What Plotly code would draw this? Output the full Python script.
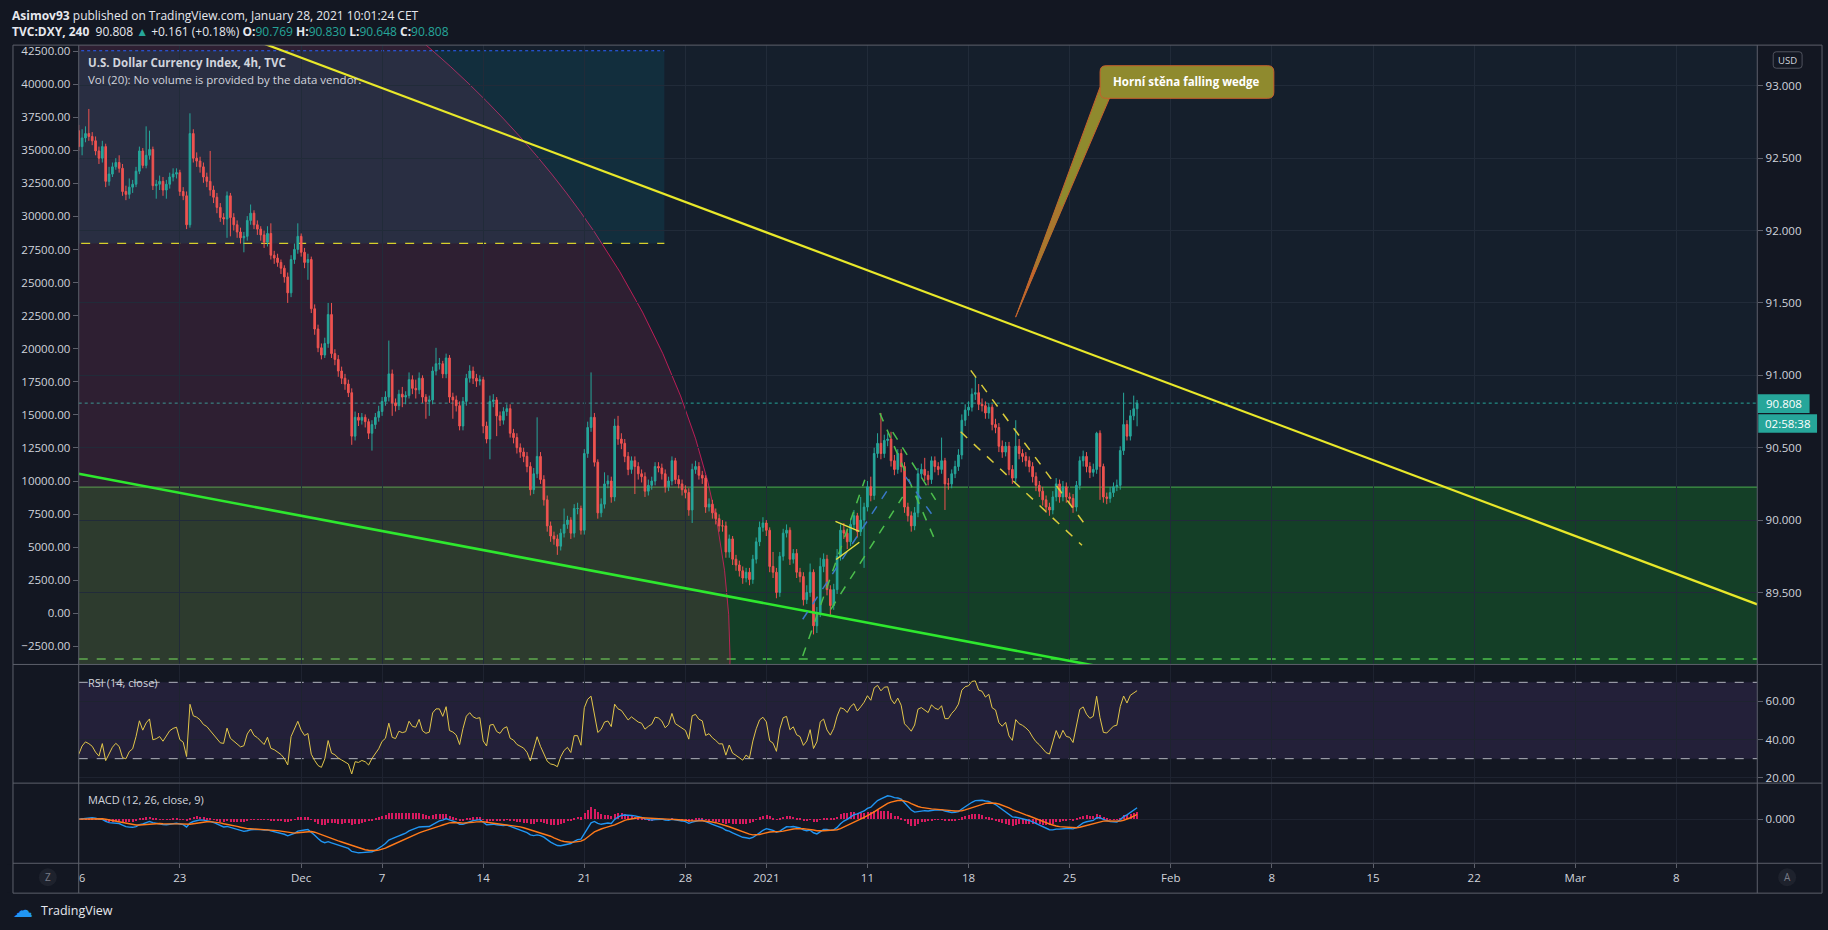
import numpy as np
import pandas as pd
import plotly.graph_objects as go

W, H = 1828, 930

# TVC:DXY 4h bars from 16 Nov 2020
FIRST_OPEN = 92.69
CLOSES = [
    92.58, 92.64, 92.67, 92.65, 92.62, 92.55, 92.50, 92.58, 92.34, 92.39, 92.44, 92.47,
    92.43, 92.27, 92.25, 92.30, 92.32, 92.41, 92.55, 92.45, 92.52, 92.56, 92.31, 92.32,
    92.34, 92.28, 92.32, 92.37, 92.39, 92.40, 92.27, 92.24, 92.04, 92.67, 92.50, 92.48,
    92.44, 92.37, 92.34, 92.28, 92.23, 92.16, 92.09, 92.08, 92.24, 92.09, 92.04, 91.99,
    91.95, 91.96, 92.07, 92.12, 92.04, 92.01, 91.97, 91.92, 91.98, 91.83, 91.81, 91.78,
    91.74, 91.68, 91.57, 91.80, 91.87, 91.96, 91.85, 91.78, 91.80, 91.46, 91.32, 91.19,
    91.14, 91.22, 91.42, 91.15, 91.11, 91.03, 90.98, 90.94, 90.88, 90.58, 90.71, 90.69,
    90.71, 90.68, 90.60, 90.66, 90.71, 90.75, 90.82, 90.85, 91.01, 90.81, 90.79, 90.87,
    90.85, 90.86, 90.97, 90.91, 90.90, 90.98, 90.85, 90.82, 90.83, 91.03, 91.08, 91.08,
    91.01, 91.12, 90.85, 90.83, 90.79, 90.65, 90.82, 90.98, 91.03, 90.98, 90.96, 90.97,
    90.65, 90.56, 90.82, 90.83, 90.72, 90.69, 90.75, 90.77, 90.60, 90.57, 90.50, 90.47,
    90.44, 90.37, 90.21, 90.32, 90.44, 90.28, 90.14, 89.96, 89.89, 89.87, 89.82, 89.91,
    89.97, 90.00, 89.91, 90.08, 90.08, 89.93, 90.46, 90.64, 90.71, 90.40, 90.05, 90.11,
    90.25, 90.27, 90.16, 90.65, 90.56, 90.53, 90.44, 90.35, 90.41, 90.37, 90.32, 90.30,
    90.20, 90.24, 90.27, 90.37, 90.36, 90.32, 90.23, 90.27, 90.41, 90.28, 90.25, 90.21,
    90.19, 90.07, 90.35, 90.37, 90.31, 90.29, 90.09, 90.11, 90.05, 90.01, 89.96, 89.96,
    89.78, 89.87, 89.73, 89.69, 89.65, 89.60, 89.64, 89.59, 89.73, 89.85, 89.95, 89.98,
    89.93, 89.68, 89.64, 89.50, 89.75, 89.91, 89.93, 89.73, 89.77, 89.64, 89.61, 89.45,
    89.50, 89.64, 89.27, 89.36, 89.68, 89.73, 89.52, 89.41, 89.52, 89.75, 89.93, 89.91,
    89.85, 89.97, 90.03, 89.92, 90.00, 90.09, 90.23, 90.17, 90.46, 90.53, 90.46, 90.55,
    90.56, 90.41, 90.35, 90.46, 90.37, 90.09, 90.03, 89.96, 90.05, 90.32, 90.35, 90.31,
    90.28, 90.41, 90.37, 90.35, 90.41, 90.25, 90.25, 90.32, 90.37, 90.45, 90.69, 90.76,
    90.78, 90.87, 90.88, 90.80, 90.79, 90.74, 90.78, 90.66, 90.64, 90.51, 90.47, 90.51,
    90.35, 90.29, 90.51, 90.46, 90.44, 90.41, 90.37, 90.30, 90.24, 90.20, 90.14, 90.09,
    90.07, 90.16, 90.25, 90.16, 90.23, 90.16, 90.15, 90.09, 90.24, 90.41, 90.44, 90.37,
    90.33, 90.35, 90.60, 90.37, 90.16, 90.15, 90.19, 90.23, 90.24, 90.48, 90.66, 90.58,
    90.72, 90.769, 90.808,
]
HIGHS = [
    92.73, 92.70, 92.72, 92.84, 92.68, 92.65, 92.58, 92.62, 92.60, 92.44, 92.47, 92.50,
    92.52, 92.46, 92.31, 92.36, 92.35, 92.44, 92.58, 92.57, 92.72, 92.69, 92.58, 92.35,
    92.38, 92.37, 92.35, 92.40, 92.43, 92.43, 92.42, 92.30, 92.27, 92.81, 92.70, 92.54,
    92.51, 92.47, 92.40, 92.55, 92.31, 92.26, 92.19, 92.12, 92.27, 92.26, 92.12, 92.07,
    92.02, 91.99, 92.10, 92.18, 92.14, 92.07, 92.03, 92.00, 92.03, 92.05, 91.86, 91.84,
    91.80, 91.76, 91.71, 91.83, 91.91, 92.05, 91.98, 91.88, 91.84, 91.82, 91.49, 91.35,
    91.22, 91.26, 91.50, 91.50, 91.18, 91.14, 91.06, 91.01, 90.97, 90.91, 90.75, 90.74,
    90.74, 90.73, 90.70, 90.69, 90.74, 90.79, 90.85, 90.89, 91.24, 91.04, 90.84, 90.90,
    90.92, 90.89, 91.02, 91.00, 90.97, 91.02, 91.00, 90.87, 90.86, 91.06, 91.19, 91.12,
    91.10, 91.15, 91.14, 90.88, 90.86, 90.82, 90.85, 91.01, 91.07, 91.06, 91.01, 91.00,
    90.99, 90.68, 90.86, 90.87, 90.85, 90.75, 90.78, 90.80, 90.80, 90.63, 90.60, 90.53,
    90.50, 90.47, 90.40, 90.36, 90.71, 90.47, 90.31, 90.17, 89.99, 89.92, 89.90, 89.94,
    90.08, 90.03, 90.02, 90.11, 90.12, 90.10, 90.49, 90.68, 91.02, 90.74, 90.42, 90.15,
    90.33, 90.31, 90.30, 90.70, 90.72, 90.60, 90.56, 90.47, 90.44, 90.44, 90.40, 90.35,
    90.33, 90.28, 90.30, 90.40, 90.40, 90.39, 90.35, 90.30, 90.44, 90.43, 90.31, 90.28,
    90.24, 90.22, 90.39, 90.41, 90.40, 90.34, 90.31, 90.15, 90.14, 90.08, 90.04, 90.00,
    89.99, 89.90, 89.89, 89.76, 89.72, 89.68, 89.67, 89.67, 89.76, 89.88, 89.99, 90.02,
    90.00, 89.95, 89.78, 89.67, 89.78, 89.94, 89.97, 89.95, 89.80, 89.80, 89.67, 89.64,
    89.55, 89.70, 89.66, 89.40, 89.74, 89.77, 89.76, 89.55, 89.56, 89.80, 89.97, 89.98,
    89.94, 90.01, 90.07, 90.05, 90.16, 90.12, 90.27, 90.30, 90.50, 90.60, 90.74, 90.59,
    90.60, 90.61, 90.45, 90.49, 90.49, 90.40, 90.12, 90.06, 90.09, 90.36, 90.39, 90.43,
    90.34, 90.44, 90.44, 90.40, 90.57, 90.43, 90.29, 90.35, 90.41, 90.49, 90.73, 90.80,
    90.82, 90.91, 90.99, 90.94, 90.84, 90.82, 90.81, 90.80, 90.70, 90.67, 90.55, 90.54,
    90.54, 90.38, 90.69, 90.56, 90.49, 90.47, 90.44, 90.40, 90.33, 90.27, 90.23, 90.17,
    90.12, 90.20, 90.29, 90.28, 90.27, 90.26, 90.19, 90.18, 90.27, 90.44, 90.48, 90.47,
    90.40, 90.39, 90.61, 90.62, 90.39, 90.19, 90.23, 90.26, 90.28, 90.51, 90.88, 90.69,
    90.76, 90.86, 90.830,
]
LOWS = [
    92.55, 92.52, 92.61, 92.62, 92.59, 92.52, 92.46, 92.47, 92.30, 92.31, 92.37, 92.42,
    92.40, 92.24, 92.21, 92.22, 92.26, 92.30, 92.39, 92.43, 92.43, 92.49, 92.28, 92.22,
    92.28, 92.24, 92.22, 92.29, 92.34, 92.36, 92.24, 92.21, 92.01, 92.02, 92.47, 92.44,
    92.40, 92.33, 92.30, 92.24, 92.19, 92.12, 92.06, 92.04, 91.95, 91.96, 92.00, 91.95,
    91.91, 91.85, 91.93, 92.04, 92.01, 91.97, 91.93, 91.88, 91.89, 91.80, 91.77, 91.75,
    91.70, 91.64, 91.50, 91.54, 91.77, 91.84, 91.82, 91.74, 91.66, 91.43, 91.28, 91.16,
    91.11, 91.12, 91.19, 91.12, 91.07, 90.99, 90.94, 90.90, 90.85, 90.52, 90.55, 90.65,
    90.66, 90.64, 90.56, 90.48, 90.63, 90.68, 90.72, 90.79, 90.82, 90.72, 90.75, 90.76,
    90.78, 90.80, 90.84, 90.87, 90.84, 90.87, 90.81, 90.70, 90.72, 90.80, 91.00, 91.04,
    90.98, 90.98, 90.81, 90.70, 90.75, 90.62, 90.62, 90.79, 90.95, 90.94, 90.92, 90.93,
    90.60, 90.53, 90.42, 90.78, 90.58, 90.65, 90.66, 90.72, 90.57, 90.53, 90.46, 90.43,
    90.40, 90.33, 90.17, 90.18, 90.29, 90.25, 90.10, 89.92, 89.85, 89.83, 89.76, 89.79,
    89.88, 89.94, 89.87, 89.88, 90.04, 89.90, 89.90, 90.43, 90.61, 90.37, 90.01, 90.02,
    90.08, 90.22, 90.12, 90.13, 90.52, 90.49, 90.40, 90.31, 90.32, 90.18, 90.28, 90.26,
    90.16, 90.17, 90.21, 90.24, 90.33, 90.28, 90.19, 90.20, 90.24, 90.25, 90.22, 90.17,
    90.15, 90.03, 89.98, 90.32, 90.28, 90.25, 90.05, 90.06, 90.01, 89.97, 89.92, 89.92,
    89.74, 89.74, 89.69, 89.65, 89.61, 89.56, 89.57, 89.55, 89.56, 89.70, 89.82, 89.92,
    89.89, 89.64, 89.60, 89.46, 89.47, 89.72, 89.88, 89.69, 89.70, 89.60, 89.57, 89.41,
    89.42, 89.47, 89.21, 89.22, 89.33, 89.64, 89.48, 89.33, 89.38, 89.49, 89.72, 89.87,
    89.80, 89.82, 89.94, 89.88, 89.89, 89.67, 90.06, 90.13, 90.14, 90.43, 90.42, 90.43,
    90.51, 90.37, 90.31, 90.32, 90.33, 90.05, 89.99, 89.92, 89.93, 90.02, 90.29, 90.27,
    90.24, 90.25, 90.33, 90.31, 90.32, 90.07, 90.21, 90.22, 90.29, 90.34, 90.42, 90.65,
    90.72, 90.75, 90.83, 90.76, 90.75, 90.70, 90.70, 90.62, 90.60, 90.47, 90.43, 90.44,
    90.31, 90.25, 90.26, 90.42, 90.40, 90.37, 90.33, 90.26, 90.20, 90.16, 90.10, 90.05,
    90.03, 90.04, 90.13, 90.12, 90.13, 90.12, 90.11, 90.05, 90.06, 90.21, 90.37, 90.33,
    90.29, 90.30, 90.32, 90.14, 90.12, 90.11, 90.12, 90.16, 90.20, 90.21, 90.45, 90.55,
    90.55, 90.69, 90.648,
]

TICK_DATES = ["2020-11-16", "2020-11-23", "2020-12-01", "2020-12-07", "2020-12-14",
              "2020-12-21", "2020-12-28", "2021-01-04", "2021-01-11", "2021-01-18",
              "2021-01-25", "2021-02-01", "2021-02-08", "2021-02-15", "2021-02-22",
              "2021-03-01", "2021-03-08"]
TICK_TEXT = ["16", "23", "Dec", "7", "14", "21", "28", "2021", "11", "18", "25",
             "Feb", "8", "15", "22", "Mar", "8"]
PRICE_TICKS = [89.5, 90.0, 90.5, 91.0, 91.5, 92.0, 92.5, 93.0]
VOL_TICKS = list(range(-2500, 42501, 2500))
RSI_TICKS = [20, 40, 60]
RSI_LEVELS = [30, 70]
LAST_PRICE = 90.808
COUNTDOWN = "02:58:38"

# drawings as (time, price) anchor pairs
UPPER_WEDGE = [("2020-11-16 00:00", 93.771), ("2021-03-12 00:00", 89.418)]
LOWER_WEDGE = [("2020-11-16 00:00", 90.320), ("2021-01-27 00:00", 88.975)]
RISE_GREEN = [
    [("2021-01-05 19:12", 89.061), ("2021-01-08 20:53", 90.278)],
    [("2021-01-07 04:34", 89.384), ("2021-01-12 17:46", 90.161)],
]
RISE_BLUE = [("2021-01-05 19:12", 89.315), ("2021-01-12 02:24", 90.230)]
FALL_GREEN = [
    [("2021-01-11 14:38", 90.739), ("2021-01-14 08:53", 89.852)],
    [("2021-01-12 06:00", 90.608), ("2021-01-14 08:53", 90.140)],
]
FALL_BLUE = [("2021-01-12 21:22", 90.299), ("2021-01-14 08:53", 90.003)]
PENNANT = [
    [("2021-01-07 10:05", 89.991), ("2021-01-08 14:24", 89.922)],
    [("2021-01-07 10:48", 89.728), ("2021-01-08 14:24", 89.847)],
]
FALL_YELLOW = [
    [("2021-01-18 02:38", 91.034), ("2021-01-25 18:29", 89.968)],
    [("2021-01-15 14:38", 90.610), ("2021-01-25 14:38", 89.826)],
]
CIRCLE = dict(x0="2020-08-26 10:48", x1="2020-12-30 05:00", y0=82.777, y1=95.303)
BOX_TOP, BOX_BOTTOM, BOX_END = 93.242, 91.911, "2020-12-24 23:00"
GREEN_ZONE_TOP = 90.228
GREEN_DASH = 89.04

UP, DOWN = "#26a69a", "#ef5350"
BG, MAIN_BG = "#131722", "#151f2c"
TXT = "#d1d4dc"
FRAME = "#5d606b"
FONT = "Open Sans, Noto Sans, sans-serif"

days = pd.bdate_range("2020-11-16", "2021-01-28")
days = days[days != pd.Timestamp("2021-01-01")]
times = [d + pd.Timedelta(hours=h) for d in days for h in range(0, 24, 4)][:len(CLOSES)]
opens = [FIRST_OPEN] + CLOSES[:-1]


def rsi(values, n=14):
    c = np.asarray(values, float)
    d = np.diff(c)
    up, dn = np.clip(d, 0, None), np.clip(-d, 0, None)
    ag, al = up[:n].mean(), dn[:n].mean()
    out = [100 - 100 / (1 + ag / al)]
    for u, v in zip(up, dn):
        ag = (ag * (n - 1) + u) / n
        al = (al * (n - 1) + v) / n
        out.append(100 - 100 / (1 + ag / al))
    return out


close_s = pd.Series(CLOSES)
macd = close_s.ewm(span=12, adjust=False).mean() - close_s.ewm(span=26, adjust=False).mean()
signal = macd.ewm(span=9, adjust=False).mean()
hist = macd - signal
rsi_vals = rsi(CLOSES)

# MACD pane: zero line sits ~35px below top, ~44px above bottom
s = max(macd.max() / 25.6, -macd.min() / 33.8)
macd_range = [-44.3 * s, 35.2 * s]


def px(x):
    return x / W


def py(y):
    return 1 - y / H


fig = go.Figure()

fig.add_trace(go.Candlestick(
    x=times, open=opens, high=HIGHS, low=LOWS, close=CLOSES,
    increasing=dict(line=dict(color=UP, width=1), fillcolor=UP),
    decreasing=dict(line=dict(color=DOWN, width=1), fillcolor=DOWN),
    xaxis="x", yaxis="y", hoverinfo="skip",
))
fig.add_trace(go.Scatter(x=[times[0]], y=[None], xaxis="x", yaxis="y2", mode="lines"))


def seg(pts, color, width, dash="solid"):
    fig.add_trace(go.Scatter(
        x=[p[0] for p in pts], y=[p[1] for p in pts], mode="lines",
        line=dict(color=color, width=width, dash=dash),
        xaxis="x", yaxis="y", hoverinfo="skip",
    ))


seg(UPPER_WEDGE, "#e8e82a", 2.2)
seg(LOWER_WEDGE, "#2ee82e", 2.6)
for line in RISE_GREEN + FALL_GREEN:
    seg(line, "#4cbf4c", 1.5, "dash")
seg(RISE_BLUE, "#3a78c8", 1.5, "dash")
seg(FALL_BLUE, "#3a78c8", 1.5, "dash")
for line in PENNANT:
    seg(line, "#e8e040", 1.5)
for line in FALL_YELLOW:
    seg(line, "#d9cc3a", 1.5, "dash")

fig.add_trace(go.Scatter(x=times, y=rsi_vals, mode="lines", line=dict(color="#e2c64a", width=1),
                         xaxis="x2", yaxis="y3", hoverinfo="skip"))
fig.add_trace(go.Bar(x=times, y=hist, marker=dict(color="#d81b60", line=dict(width=0)),
                     width=4 * 3600 * 1000 * 0.35, xaxis="x3", yaxis="y4", hoverinfo="skip"))
fig.add_trace(go.Scatter(x=times, y=macd, mode="lines", line=dict(color="#2196f3", width=1.4),
                         xaxis="x3", yaxis="y4", hoverinfo="skip"))
fig.add_trace(go.Scatter(x=times, y=signal, mode="lines", line=dict(color="#ff7a1a", width=1.4),
                         xaxis="x3", yaxis="y4", hoverinfo="skip"))

x_range = ["2020-11-16 00:00", "2021-03-12 00:00"]
breaks = [dict(bounds=["sat", "mon"]), dict(values=["2021-01-01"])]
x_dom = [px(72), px(1757)]
xbase = dict(type="date", range=x_range, rangebreaks=breaks, domain=x_dom,
             tickvals=TICK_DATES, ticktext=TICK_TEXT, showline=False, zeroline=False,
             fixedrange=True)
tickfont = dict(family=FONT, size=11.5, color=TXT)

fig.update_layout(
    xaxis=dict(xbase, anchor="y", showticklabels=False, gridcolor="#212b39",
               rangeslider=dict(visible=False)),
    xaxis2=dict(xbase, anchor="y3", matches="x", showticklabels=False, gridcolor="#1e2330"),
    xaxis3=dict(xbase, anchor="y4", matches="x", showticklabels=True, gridcolor="#1e2330",
                ticks="outside", ticklen=4, tickcolor=FRAME, tickfont=tickfont),
    yaxis=dict(domain=[py(665.3), py(43.3)], anchor="x", side="right",
               range=[89.003, 93.281], tickvals=PRICE_TICKS, tickformat=".3f",
               ticks="outside", ticklen=5, tickcolor=FRAME, tickfont=tickfont,
               gridcolor="#212b39", zeroline=False, fixedrange=True),
    yaxis2=dict(overlaying="y", anchor="x", side="left", range=[-3863, 42952],
                tickvals=VOL_TICKS, tickformat=".2f", ticks="outside", ticklen=5,
                tickcolor=FRAME, tickfont=tickfont, showgrid=False, zeroline=False,
                fixedrange=True),
    yaxis3=dict(domain=[py(784.5), py(666)], anchor="x2", side="right",
                range=[17.2, 79.0], tickvals=RSI_TICKS, tickformat=".2f",
                ticks="outside", ticklen=5, tickcolor=FRAME, tickfont=tickfont,
                gridcolor="#1e2330", zeroline=False, fixedrange=True),
    yaxis4=dict(domain=[py(865), py(785.5)], anchor="x3", side="right",
                range=macd_range, tickvals=[0], tickformat=".3f",
                ticks="outside", ticklen=5, tickcolor=FRAME, tickfont=tickfont,
                gridcolor="#1e2330", zeroline=False, fixedrange=True),
    width=W, height=H, autosize=False,
    margin=dict(l=0, r=0, t=0, b=0, pad=0),
    paper_bgcolor=BG, plot_bgcolor=BG,
    showlegend=False, hovermode=False, bargap=0,
    font=dict(family=FONT, color=TXT),
)

shapes = [
    dict(type="rect", xref="x domain", yref="y domain", x0=0, x1=1, y0=0, y1=1,
         fillcolor=MAIN_BG, line=dict(width=0), layer="below"),
    dict(type="circle", xref="x", yref="y", **CIRCLE,
         fillcolor="rgba(233,30,99,0.12)", line=dict(color="rgba(233,30,99,0.75)", width=1),
         layer="below"),
    dict(type="rect", xref="x", yref="y", x0="2020-11-09", x1=BOX_END, y0=BOX_BOTTOM, y1=BOX_TOP,
         fillcolor="rgba(0,188,212,0.10)", line=dict(width=0), layer="below"),
    dict(type="line", xref="x", yref="y", x0="2020-11-09", x1=BOX_END, y0=BOX_TOP, y1=BOX_TOP,
         line=dict(color="#2962ff", width=1.2, dash="dot"), layer="below"),
    dict(type="line", xref="x", yref="y", x0="2020-11-09", x1=BOX_END, y0=BOX_BOTTOM, y1=BOX_BOTTOM,
         line=dict(color="#d7cf2b", width=1.3, dash="dash"), layer="below"),
    dict(type="rect", xref="x domain", yref="y", x0=0, x1=1, y0=88.0, y1=GREEN_ZONE_TOP,
         fillcolor="rgba(20,140,30,0.30)", line=dict(width=0), layer="below"),
    dict(type="line", xref="x domain", yref="y", x0=0, x1=1, y0=GREEN_ZONE_TOP, y1=GREEN_ZONE_TOP,
         line=dict(color="#4caf50", width=1), layer="below"),
    dict(type="line", xref="x domain", yref="y", x0=0, x1=1, y0=GREEN_DASH, y1=GREEN_DASH,
         line=dict(color="#4cbf4c", width=1.5, dash="dash"), layer="below"),
    dict(type="line", xref="x domain", yref="y", x0=0, x1=1, y0=LAST_PRICE, y1=LAST_PRICE,
         line=dict(color=UP, width=1, dash="dot"), layer="below"),
    dict(type="rect", xref="x2 domain", yref="y3", x0=0, x1=1, y0=RSI_LEVELS[0], y1=RSI_LEVELS[1],
         fillcolor="rgba(126,87,194,0.15)", line=dict(width=0), layer="below"),
]
for lvl in RSI_LEVELS:
    shapes.append(dict(type="line", xref="x2 domain", yref="y3", x0=0, x1=1, y0=lvl, y1=lvl,
                       line=dict(color="#b2b5be", width=1, dash="dash"), layer="below"))

# cover the clipped first date label, then the pane frame
shapes.append(dict(type="rect", xref="paper", yref="paper", x0=0, x1=px(72.5),
                   y0=py(894), y1=py(866), fillcolor=BG, line=dict(width=0), layer="above"))
for yy in [43.3, 665.3, 784.5, 865, 895]:
    shapes.append(dict(type="line", xref="paper", yref="paper", x0=px(6), x1=px(1822),
                       y0=py(yy), y1=py(yy), line=dict(color=FRAME, width=1), layer="above"))
for xx in [6, 72, 1757, 1822]:
    shapes.append(dict(type="line", xref="paper", yref="paper", x0=px(xx), x1=px(xx),
                       y0=py(895), y1=py(43.3), line=dict(color=FRAME, width=1), layer="above"))


def rrect(x0, y0, x1, y1, r):
    rx, ry = r / W, r / H
    a0, a1, b0, b1 = px(x0), px(x1), py(y0), py(y1)
    return (f"M {a0 + rx},{b0} L {a1 - rx},{b0} Q {a1},{b0} {a1},{b0 - ry} "
            f"L {a1},{b1 + ry} Q {a1},{b1} {a1 - rx},{b1} L {a0 + rx},{b1} "
            f"Q {a0},{b1} {a0},{b1 + ry} L {a0},{b0 - ry} Q {a0},{b0} {a0 + rx},{b0} Z")


def tri(p, q, r):
    return f"M {px(p[0])},{py(p[1])} L {px(q[0])},{py(q[1])} L {px(r[0])},{py(r[1])} Z"


# callout: tapered pointer shading from olive to orange, then the rounded box
tip, left, right = (1012.5, 316.5), (1097, 86), (1107, 96)
shapes.append(dict(type="path", xref="paper", yref="paper", path=tri(left, right, tip),
                   fillcolor="#8f8a2e", line=dict(color="#c8602c", width=1), layer="above"))
for t, col in [(0.5, "#a8782e"), (0.78, "#c4652d")]:
    lp = (left[0] + t * (tip[0] - left[0]), left[1] + t * (tip[1] - left[1]))
    rp = (right[0] + t * (tip[0] - right[0]), right[1] + t * (tip[1] - right[1]))
    shapes.append(dict(type="path", xref="paper", yref="paper", path=tri(lp, rp, tip),
                       fillcolor=col, line=dict(width=0), layer="above"))
shapes.append(dict(type="path", xref="paper", yref="paper", path=rrect(1097.3, 64, 1271.7, 96.7, 6),
                   fillcolor="#8f8a2e", line=dict(color="#c8602c", width=1), layer="above"))
# price tags and small buttons
shapes.append(dict(type="rect", xref="paper", yref="paper", x0=px(1757.5), x1=px(1809.5),
                   y0=py(412.7), y1=py(394), fillcolor=UP, line=dict(width=0), layer="above"))
shapes.append(dict(type="rect", xref="paper", yref="paper", x0=px(1758), x1=px(1817),
                   y0=py(432.7), y1=py(414), fillcolor=UP, line=dict(width=0), layer="above"))
shapes.append(dict(type="path", xref="paper", yref="paper", path=rrect(1773, 50, 1802, 66.5, 3),
                   fillcolor=BG, line=dict(color="#50535e", width=1), layer="above"))
for cx in [41, 1787]:
    shapes.append(dict(type="circle", xref="paper", yref="paper", x0=px(cx - 9), x1=px(cx + 9),
                       y0=py(888), y1=py(870), fillcolor="#1e222d", line=dict(width=0),
                       layer="above"))
fig.update_layout(shapes=shapes)

teal = "<span style='color:#26a69a'>{}</span>"
header1 = "<b>Asimov93</b> published on TradingView.com, January 28, 2021 10:01:24 CET"
header2 = ("<b>TVC:DXY, 240</b>  90.808 " + teal.format("▲") + " +0.161 (+0.18%) "
           "<b>O:</b>" + teal.format("90.769") + " <b>H:</b>" + teal.format("90.830")
           + " <b>L:</b>" + teal.format("90.648") + " <b>C:</b>" + teal.format("90.808"))

notes = [
    (3, 13.3, header1, 12, "left", "#e6e8ee"),
    (3, 29.3, header2, 12, "left", "#e6e8ee"),
    (79, 61, "<b>U.S. Dollar Currency Index, 4h, TVC</b>", 11.5, "left", TXT),
    (79, 77.5, "Vol (20): No volume is provided by the data vendor.", 11.5, "left", TXT),
    (79, 683, "RSI (14, close)", 11, "left", TXT),
    (79, 801, "MACD (12, 26, close, 9)", 11, "left", TXT),
    (1184.5, 80.3, "<b>Horní stěna falling wedge</b>", 11.5, "center", "#ffffff"),
    (1783.5, 403.4, f"{LAST_PRICE:.3f}", 11.5, "center", "#ffffff"),
    (1787.5, 423.4, COUNTDOWN, 11.5, "center", "#ffffff"),
    (1787.5, 58.3, "USD", 9.5, "center", TXT),
    (41, 879, "Z", 10, "center", "#787b86"),
    (1787, 879, "A", 10, "center", "#787b86"),
    (32, 912, "TradingView", 12.5, "left", "#e6e8ee"),
]
for x, y, text, size, anchor, color in notes:
    fig.add_annotation(xref="paper", yref="paper", x=px(x), y=py(y), text=text, showarrow=False,
                       xanchor=anchor, yanchor="middle", font=dict(family=FONT, size=size, color=color))
fig.add_annotation(xref="paper", yref="paper", x=px(4), y=py(912), text="☁", showarrow=False,
                   xanchor="left", yanchor="middle",
                   font=dict(family="DejaVu Sans", size=20, color="#2196f3"))

# pin the figure to the window corner (no default page margin, no scrollbars)
pin = ("document.documentElement.style.overflow='hidden';"
       "document.body.style.margin='0';document.body.style.overflow='hidden';"
       "document.body.style.background='#131722';"
       "var g=document.getElementsByClassName('plotly-graph-div')[0];"
       "g.style.position='absolute';g.style.left='0px';g.style.top='0px';")
fig.write_html("out.html", config={"displayModeBar": False}, post_script=pin)
